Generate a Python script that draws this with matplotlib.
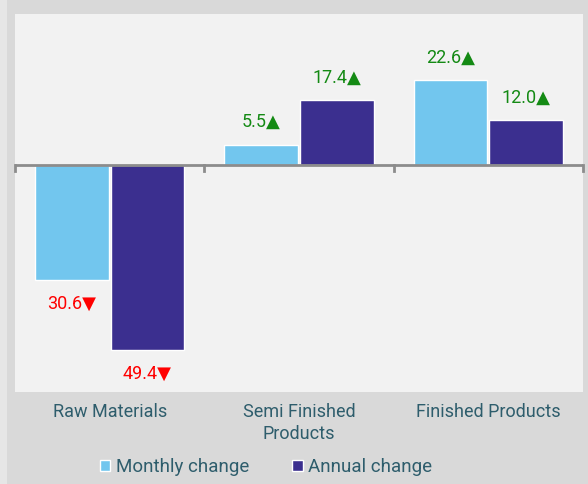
import matplotlib
matplotlib.use("Agg")
import matplotlib.pyplot as plt
import numpy as np
from matplotlib.patches import Rectangle, Patch

# data
categories = ["Raw Materials", "Semi Finished\nProducts", "Finished Products"]
monthly = [-30.6, 5.5, 22.6]
annual = [-49.4, 17.4, 12.0]
series_names = ["Monthly change", "Annual change"]

light_blue = "#72c6ee"
dark_blue = "#3b2f8f"
text_col = "#2e5d6c"
up_col = "#148a14"
down_col = "#ff0000"

plt.rcParams["font.family"] = ["Roboto", "DejaVu Sans"]

fig = plt.figure(figsize=(5.88, 4.84), dpi=100)
fig.patch.set_facecolor("#d9d9d9")
fig.patches.append(Rectangle((0, 0), 7 / 588, 1, transform=fig.transFigure,
                             facecolor="#e6e6e6", edgecolor="none", zorder=0))

ax = fig.add_axes([15 / 588, 1 - 392 / 484, 568 / 588, 378 / 484])
ax.set_facecolor("#f2f2f2")

x = np.arange(len(categories))
w = 0.39
b1 = ax.bar(x - 0.2, monthly, w, color=light_blue, edgecolor="white", linewidth=1, zorder=2)
b2 = ax.bar(x + 0.2, annual, w, color=dark_blue, edgecolor="white", linewidth=1, zorder=2)

ax.set_xlim(-0.5, 2.5)
ax.set_ylim(-60.5, 40.3)

for bars, vals in ((b1, monthly), (b2, annual)):
    for bar, v in zip(bars, vals):
        cx = bar.get_x() + bar.get_width() / 2
        if v >= 0:
            txt, col, off = f"{abs(v):.1f}\u25b2", up_col, 16
        else:
            txt, col, off = f"{abs(v):.1f}\u25bc", down_col, -17
        ax.annotate(txt, (cx, v), xytext=(0, off), textcoords="offset points",
                    ha="center", va="center", color=col, fontsize=13)

# zero axis with category separators
ax.axhline(0, color="#8c8c8c", linewidth=2, zorder=3)
for sep in [-0.5, 0.5, 1.5, 2.5]:
    ax.plot([sep, sep], [0, -1.6], color="#8c8c8c", linewidth=2, zorder=3, clip_on=False)

for s in ax.spines.values():
    s.set_visible(False)
ax.set_yticks([])
ax.set_xticks([])

# category labels below plot area
for xi, lab in zip(x, categories):
    ax.text(xi, -0.028, lab, transform=ax.get_xaxis_transform(), ha="center", va="top",
            color=text_col, fontsize=13, linespacing=1.3)

handles = [Patch(facecolor=light_blue, edgecolor="white", linewidth=1),
           Patch(facecolor=dark_blue, edgecolor="white", linewidth=1)]
leg = fig.legend(handles, series_names, loc="center", bbox_to_anchor=(266 / 588, 1 - 467 / 484),
                 ncol=2, frameon=False, fontsize=13.5, handlelength=0.55, handleheight=0.55,
                 handletextpad=0.3, columnspacing=2.3, labelcolor=text_col)

fig.savefig("out.png", dpi=100, facecolor=fig.get_facecolor())
